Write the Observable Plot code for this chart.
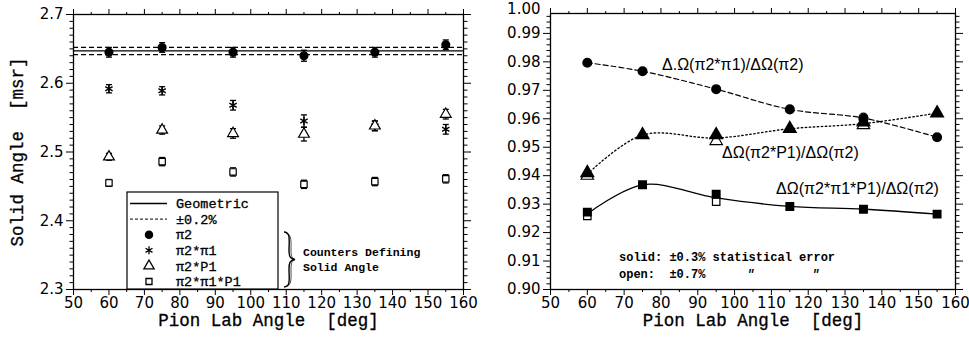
<!DOCTYPE html>
<html><head><meta charset="utf-8">
<script src="https://cdn.jsdelivr.net/npm/d3@7"></script>
<script src="https://cdn.jsdelivr.net/npm/@observablehq/plot@0.6"></script>
<style>
body{margin:0;background:#fff;}
#wrap{display:flex;width:969px;height:350px;overflow:hidden;}
svg text{white-space:pre;}
</style></head><body><div id="wrap"></div>
<script>
// ---------- data (left panel) ----------
const angles = [60, 75, 95, 115, 135, 155];
const geometric = 2.647;
const tolerance = 0.002;
const pi2 = [2.645, 2.652, 2.645, 2.640, 2.645, 2.656];
const pi2Err = [0.007, 0.007, 0.007, 0.008, 0.007, 0.007];
const pi2pi1 = [2.592, 2.589, 2.568, 2.545, 2.538, 2.533];
const pi2pi1Err = [0.006, 0.006, 0.007, 0.009, 0.007, 0.007];
const pi2P1 = [2.493, 2.532, 2.527, 2.526, 2.538, 2.555];
const pi2P1Err = [0.005, 0.006, 0.007, 0.010, 0.007, 0.007];
const pi2pi1P1 = [2.455, 2.486, 2.471, 2.453, 2.457, 2.461];
const pi2pi1P1Err = [0.005, 0.006, 0.006, 0.006, 0.006, 0.006];
const leftLabels = ["Geometric", "±0.2%", "π2", "π2*π1", "π2*P1", "π2*π1*P1"];

// ---------- data (right panel) ----------
const ratioPi1 = [0.9797, 0.9767, 0.9704, 0.9633, 0.9600, 0.9535];
const ratioPi1Open = [null, null, null, null, 0.9605, null];
const ratioP1 = [0.9410, 0.9543, 0.9543, 0.9565, 0.9588, 0.9620];
const ratioP1Open = [0.9400, null, 0.9522, null, 0.9578, null];
const ratioPi1P1 = [0.9272, 0.9368, 0.9335, 0.9292, 0.9282, 0.9265];
const ratioPi1P1Open = [0.9259, null, 0.9309, null, null, null];
const rightLabels = ["Δ.Ω(π2*π1)/ΔΩ(π2)", "ΔΩ(π2*P1)/ΔΩ(π2)", "ΔΩ(π2*π1*P1)/ΔΩ(π2)"];
const notes = ["solid: ±0.3% statistical error", "open:  ±0.7%"];

// ---------- helpers ----------
const rows = (vals, errs) => angles.map((a, i) => ({x: a, y: vals[i], e: errs ? errs[i] : 0}));
const openRows = (vals) => angles.map((a, i) => ({x: a, y: vals[i]})).filter(d => d.y != null);
const lineRows = (vals, open) => angles.map((a, i) => ({x: a, y: open[i] == null ? vals[i] : (vals[i] + open[i]) / 2}));
const TICKF = "DejaVu Sans", TICKS = 15;
const TITLEF = "Liberation Mono";
const blank = () => "";

function frameAxes(xMaj, xMin, yMaj, yMin, yFmt) {
  const common = {stroke: "black", strokeWidth: 1};
  return [
    Plot.axisX({anchor: "bottom", ticks: xMaj, tickSize: 6, tickPadding: 2, label: null, fontSize: TICKS, fontFamily: TICKF, fill: "black", ...common}),
    Plot.axisX({anchor: "bottom", ticks: xMin, tickSize: 3, label: null, tickFormat: blank, ...common}),
    Plot.axisX({anchor: "top", ticks: xMaj, tickSize: 6, label: null, tickFormat: blank, ...common}),
    Plot.axisX({anchor: "top", ticks: xMin, tickSize: 3, label: null, tickFormat: blank, ...common}),
    Plot.axisY({anchor: "left", ticks: yMaj, tickSize: 7, tickPadding: 3, label: null, tickFormat: yFmt, fontSize: TICKS, fontFamily: TICKF, fill: "black", ...common}),
    Plot.axisY({anchor: "left", ticks: yMin, tickSize: 3.5, label: null, tickFormat: blank, ...common}),
    Plot.axisY({anchor: "right", ticks: yMaj, tickSize: 7, label: null, tickFormat: blank, ...common}),
    Plot.axisY({anchor: "right", ticks: yMin, tickSize: 3.5, label: null, tickFormat: blank, ...common}),
    Plot.frame({stroke: "black", strokeWidth: 1.3})
  ];
}

function errorMarks(data) {
  return [
    Plot.link(data, {x1: "x", x2: "x", y1: d => d.y - d.e, y2: d => d.y + d.e, stroke: "black", strokeWidth: 1.3}),
    Plot.link(data, {x1: d => d.x - 0.85, x2: d => d.x + 0.85, y1: d => d.y - d.e, y2: d => d.y - d.e, stroke: "black", strokeWidth: 1.3}),
    Plot.link(data, {x1: d => d.x - 0.85, x2: d => d.x + 0.85, y1: d => d.y + d.e, y2: d => d.y + d.e, stroke: "black", strokeWidth: 1.3})
  ];
}

// ---------- left panel ----------
const dC = rows(pi2, pi2Err), dA = rows(pi2pi1, pi2pi1Err), dT = rows(pi2P1, pi2P1Err), dS = rows(pi2pi1P1, pi2pi1P1Err);
const left = Plot.plot({
  width: 484, height: 350,
  marginLeft: 73, marginRight: 21, marginTop: 14, marginBottom: 61,
  x: {domain: [50, 160]},
  y: {domain: [2.3, 2.7]},
  style: {background: "white", color: "black"},
  marks: [
    ...frameAxes(d3.range(50, 161, 10), d3.range(55, 160, 10),
      [2.3, 2.4, 2.5, 2.6, 2.7], d3.range(230, 271).filter(d => d % 10).map(d => d / 100), d3.format(".1f")),
    Plot.ruleY([geometric], {stroke: "black", strokeWidth: 1.2}),
    Plot.ruleY([geometric * (1 - tolerance), geometric * (1 + tolerance)], {stroke: "black", strokeWidth: 1.2, strokeDasharray: "5,3"}),
    ...errorMarks(dC), ...errorMarks(dA), ...errorMarks(dT), ...errorMarks(dS),
    Plot.dot(dC, {x: "x", y: "y", r: 3.8, fill: "black", stroke: "black"}),
    Plot.dot(dA, {x: "x", y: "y", r: 4, symbol: "asterisk", stroke: "black", strokeWidth: 1.4}),
    Plot.dot(dT, {x: "x", y: "y", r: 4, symbol: "triangle", fill: "white", stroke: "black", strokeWidth: 1.2}),
    Plot.dot(dS, {x: "x", y: "y", r: 3.6, symbol: "square", fill: "white", stroke: "black", strokeWidth: 1.2}),
    Plot.text(["Pion Lab Angle  [deg]"], {frameAnchor: "bottom", dy: 36, fontFamily: TITLEF, fontSize: 17.5, fill: "black", stroke: "black", strokeWidth: 0.3}),
    Plot.text(["Solid Angle  [msr]"], {frameAnchor: "left", dx: -56, rotate: -90, textAnchor: "middle", fontFamily: TITLEF, fontSize: 17.5, fill: "black", stroke: "black", strokeWidth: 0.3})
  ]
});

// legend overlay on left panel
{
  const g = d3.select(left).append("g").attr("font-family", TITLEF).attr("font-size", 13.5).attr("text-anchor", "start");
  g.append("rect").attr("x", 127).attr("y", 192).attr("width", 151).attr("height", 97)
    .attr("fill", "white").attr("stroke", "black").attr("stroke-width", 1.2);
  const ys = [203.5, 219.1, 234.7, 250.3, 265.9, 281.5];
  g.append("line").attr("x1", 130).attr("x2", 167).attr("y1", ys[0]).attr("y2", ys[0]).attr("stroke", "black").attr("stroke-width", 1.3);
  g.append("line").attr("x1", 130).attr("x2", 167).attr("y1", ys[1]).attr("y2", ys[1]).attr("stroke", "black").attr("stroke-width", 1).attr("stroke-dasharray", "3,2");
  const sym = [null, null,
    {t: d3.symbolCircle, r: 3.6, fill: "black"},
    {t: d3.symbolAsterisk, r: 3.8, fill: "none"},
    {t: d3.symbolTriangle, r: 3.8, fill: "white"},
    {t: d3.symbolSquare, r: 3.4, fill: "white"}];
  sym.forEach((s, i) => {
    if (!s) return;
    g.append("path").attr("transform", `translate(149,${ys[i]})`)
      .attr("d", d3.symbol(s.t, Math.PI * s.r * s.r)())
      .attr("fill", s.fill).attr("stroke", "black").attr("stroke-width", 1.3);
  });
  leftLabels.forEach((t, i) => {
    g.append("text").attr("x", 176).attr("y", ys[i]).attr("dy", "0.35em").attr("fill", "black")
      .attr("stroke", "black").attr("stroke-width", 0.3).attr("textLength", null).text(t);
  });
  // brace
  g.append("path").attr("d", "M284,232 C291,232 289,242 289,250 C289,256 290,259 295,259.5 C290,260 289,263 289,269 C289,278 291,287 284,287")
    .attr("fill", "none").attr("stroke", "black").attr("stroke-width", 1.4);
  g.append("path").attr("d", "M286,233 C292,234 291,243 291,250 C291,256 292,258.5 295,259.5 C292,260.5 291,263 291,269 C291,278 292,286 286,286")
    .attr("fill", "none").attr("stroke", "black").attr("stroke-width", 0.7);
  const bt = g.append("g").attr("font-size", 11.5).attr("font-weight", "bold");
  bt.append("text").attr("x", 303).attr("y", 252).attr("dy", "0.35em").text("Counters Defining");
  bt.append("text").attr("x", 303).attr("y", 267).attr("dy", "0.35em").text("Solid Angle");
}

// ---------- right panel ----------
const rC = rows(ratioPi1), rT = rows(ratioP1), rS = rows(ratioPi1P1);
const right = Plot.plot({
  width: 485, height: 350,
  marginLeft: 66, marginRight: 14, marginTop: 13, marginBottom: 61,
  x: {domain: [50, 160]},
  y: {domain: [0.9, 0.997]},
  style: {background: "white", color: "black"},
  marks: [
    ...frameAxes(d3.range(50, 161, 10), d3.range(55, 160, 10),
      d3.range(90, 100).map(d => d / 100), d3.range(450, 499).filter(d => d % 5).map(d => d / 500), d3.format(".2f")),
    Plot.text(["1.00"], {y: [1.0], frameAnchor: "left", dx: -10, dy: 4, textAnchor: "end", fontFamily: TICKF, fontSize: TICKS, fill: "black"}),
    Plot.line(lineRows(ratioPi1, ratioPi1Open), {x: "x", y: "y", curve: "catmull-rom", stroke: "black", strokeWidth: 1.2, strokeDasharray: "5,3"}),
    Plot.line(lineRows(ratioP1, ratioP1Open), {x: "x", y: "y", curve: "catmull-rom", stroke: "black", strokeWidth: 1.3, strokeDasharray: "1.5,2.5"}),
    Plot.line(lineRows(ratioPi1P1, ratioPi1P1Open), {x: "x", y: "y", curve: "catmull-rom", stroke: "black", strokeWidth: 1.3}),
    Plot.dot(openRows(ratioPi1Open), {x: "x", y: "y", r: 4.3, fill: "white", stroke: "black", strokeWidth: 1.2}),
    Plot.dot(openRows(ratioP1Open), {x: "x", y: "y", r: 4.6, symbol: "triangle", fill: "white", stroke: "black", strokeWidth: 1.2}),
    Plot.dot(openRows(ratioPi1P1Open), {x: "x", y: "y", r: 4.2, symbol: "square", fill: "white", stroke: "black", strokeWidth: 1.2}),
    Plot.dot(rC, {x: "x", y: "y", r: 4.3, fill: "black", stroke: "black"}),
    Plot.dot(rT, {x: "x", y: "y", r: 4.6, symbol: "triangle", fill: "black", stroke: "black"}),
    Plot.dot(rS, {x: "x", y: "y", r: 4.2, symbol: "square", fill: "black", stroke: "black"}),
    Plot.text(["Pion Lab Angle  [deg]"], {frameAnchor: "bottom", dy: 36, fontFamily: TITLEF, fontSize: 17.5, fill: "black", stroke: "black", strokeWidth: 0.3})
  ]
});
{
  const g = d3.select(right).append("g").attr("fill", "black").attr("text-anchor", "start");
  const lab = g.append("g").attr("font-family", "Liberation Sans").attr("font-size", 16);
  [[178, 64], [238, 152], [292, 188]].forEach(([x, y], i) => {
    lab.append("text").attr("x", x).attr("y", y).attr("dy", "0.35em").text(rightLabels[i]);
  });
  const n = g.append("g").attr("font-family", TITLEF).attr("font-size", 12).attr("font-weight", "bold");
  n.append("text").attr("x", 135).attr("y", 257).attr("dy", "0.35em").text(notes[0]);
  n.append("text").attr("x", 135).attr("y", 274).attr("dy", "0.35em").text(notes[1]);
  n.append("text").attr("x", 263).attr("y", 274).attr("dy", "0.35em").attr("font-style", "italic").text("\"");
  n.append("text").attr("x", 328).attr("y", 274).attr("dy", "0.35em").attr("font-style", "italic").text("\"");
}

document.getElementById("wrap").append(left, right);
</script></body></html>
